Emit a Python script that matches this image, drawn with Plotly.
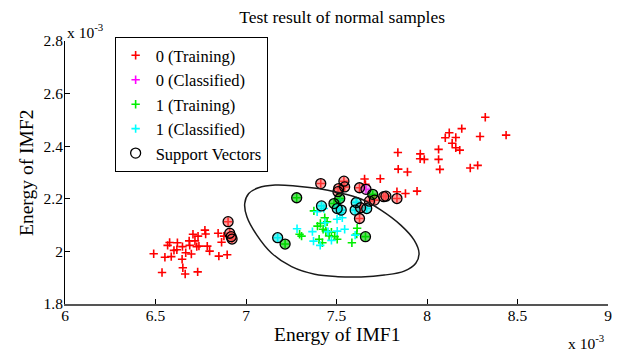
import plotly.graph_objects as go

# All values in units of 1e-3
# ---- class 0, training (red) ----
red_train_x = [6.490, 6.536, 6.552, 6.567, 6.578, 6.587, 6.602, 6.618, 6.621, 6.649,
               6.647, 6.651, 6.664, 6.667, 6.686, 6.689, 6.698, 6.707, 6.718, 6.728,
               6.733, 6.735, 6.740, 6.773, 6.777, 6.786, 6.799, 6.846, 6.850, 6.865,
               6.878, 6.896,
               6.901, 6.910, 6.918, 6.923,
               8.322, 8.437, 8.192, 8.123, 8.101, 8.159, 8.293, 8.139, 8.159, 8.181,
               8.064, 7.963, 7.962, 7.985, 8.064, 8.071, 8.239, 8.280, 7.839, 7.841,
               7.892, 7.742, 7.834, 7.881, 7.945, 7.655, 7.660,
               7.413, 7.541, 7.545, 7.512, 7.508, 7.627, 7.710, 7.682, 7.633, 7.627,
               7.761, 7.773, 7.834]
red_train_y = [1.991, 1.920, 1.978, 2.023, 2.034, 1.980, 2.004, 2.006, 2.033, 2.018,
               1.970, 1.938, 1.914, 1.995, 2.040, 2.023, 1.990, 2.065, 2.040, 2.018,
               1.922, 2.058, 2.020, 2.081, 2.066, 2.020, 2.001, 2.069, 1.982, 2.035,
               2.058, 1.987,
               2.113, 2.069, 2.056, 2.047,
               2.510, 2.442, 2.467, 2.451, 2.432, 2.433, 2.437, 2.411, 2.394, 2.385,
               2.388, 2.371, 2.352, 2.350, 2.350, 2.312, 2.317, 2.327, 2.376, 2.313,
               2.302, 2.276, 2.227, 2.220, 2.229, 2.275, 2.255,
               2.258, 2.267, 2.245, 2.239, 2.227, 2.242, 2.195, 2.191, 2.166, 2.125,
               2.208, 2.210, 2.201]

# ---- class 0, classified (magenta) ----
mag_cls_x = [7.663]
mag_cls_y = [2.236]

# ---- class 1, training (green) ----
green_train_x = [7.375, 7.435, 7.448, 7.411, 7.395, 7.296, 7.307, 7.426, 7.441, 7.472,
                 7.459, 7.490, 7.504, 7.404, 7.422, 7.614, 7.612, 7.585,
                 7.280, 7.518, 7.486, 7.700, 7.660, 7.216]
green_train_y = [2.154, 2.128, 2.113, 2.106, 2.096, 2.065, 2.058, 2.084, 2.078, 2.073,
                 2.059, 2.056, 2.046, 2.046, 2.033, 2.088, 2.066, 2.033,
                 2.204, 2.201, 2.182, 2.217, 2.056, 2.028]

# ---- class 1, classified (cyan) ----
cyan_cls_x = [7.393, 7.519, 7.503, 7.532, 7.282, 7.367, 7.453, 7.504, 7.545, 7.373,
              7.410, 7.472, 7.521, 7.612, 7.603, 7.436, 7.603, 7.430,
              7.417, 7.504, 7.526, 7.667, 7.609, 7.175]
cyan_cls_y = [2.151, 2.148, 2.122, 2.128, 2.086, 2.075, 2.075, 2.077, 2.084, 2.039,
              2.023, 2.042, 2.196, 2.187, 2.157, 2.109, 2.062, 2.163,
              2.173, 2.163, 2.157, 2.163, 2.186, 2.052]

# ---- support vectors ----
sv_x = [6.901, 6.910, 6.918, 6.923,
        7.413, 7.541, 7.545, 7.512, 7.508, 7.627, 7.710, 7.682, 7.633, 7.627,
        7.761, 7.773, 7.834,
        7.663,
        7.280, 7.518, 7.486, 7.700, 7.660, 7.216,
        7.417, 7.504, 7.526, 7.667, 7.609, 7.603, 7.175]
sv_y = [2.113, 2.069, 2.056, 2.047,
        2.258, 2.267, 2.245, 2.239, 2.227, 2.242, 2.195, 2.191, 2.166, 2.125,
        2.208, 2.210, 2.201,
        2.236,
        2.204, 2.201, 2.182, 2.217, 2.056, 2.028,
        2.173, 2.163, 2.157, 2.163, 2.186, 2.157, 2.052]
sv_class = ["0T"] * 17 + ["0C"] + ["1T"] * 6 + ["1C"] * 7

# ---- decision boundary ----
boundary_x = [6.993, 7.015, 7.069, 7.161, 7.271, 7.399, 7.508, 7.636, 7.746, 7.855,
              7.929, 7.956, 7.938, 7.874, 7.764, 7.636, 7.508, 7.380, 7.252, 7.142,
              7.060, 7.005, 6.993]
boundary_y = [2.182, 2.220, 2.242, 2.252, 2.249, 2.239, 2.224, 2.199, 2.157, 2.100,
              2.043, 1.993, 1.955, 1.925, 1.910, 1.903, 1.904, 1.913, 1.942, 1.993,
              2.062, 2.132, 2.182]

x_ticks = [6, 6.5, 7, 7.5, 8, 8.5, 9]
x_ticktext = ["6", "6.5", "7", "7.5", "8", "8.5", "9"]
y_ticks = [1.8, 2.0, 2.2, 2.4, 2.6, 2.8]
y_ticktext = ["1.8", "2", "2.2", "2.4", "2.6", "2.8"]

FONT = "Liberation Serif"
colors = {"0T": "#ff0000", "0C": "#ff00ff", "1T": "#00ee00", "1C": "#00ffff"}
fills = {"0T": "rgba(255,90,90,0.55)", "0C": "rgba(230,90,230,0.55)",
         "1T": "rgba(0,200,0,0.6)", "1C": "rgba(0,230,230,0.6)"}

fig = go.Figure()

def cross_trace(x, y, name, col):
    return go.Scatter(x=x, y=y, mode="markers", name=name,
                      marker=dict(symbol="cross-thin", size=6, color=col,
                                  line=dict(width=1.6, color=col)))

fig.add_trace(cross_trace(red_train_x, red_train_y, "0 (Training)", colors["0T"]))
fig.add_trace(cross_trace(mag_cls_x, mag_cls_y, "0 (Classified)", colors["0C"]))
fig.add_trace(cross_trace(green_train_x, green_train_y, "1 (Training)", colors["1T"]))
fig.add_trace(cross_trace(cyan_cls_x, cyan_cls_y, "1 (Classified)", colors["1C"]))

# translucent fill inside support-vector circles
fig.add_trace(go.Scatter(x=sv_x, y=sv_y, mode="markers", showlegend=False,
                         hoverinfo="skip",
                         marker=dict(symbol="circle", size=10,
                                     color=[fills[c] for c in sv_class],
                                     line=dict(width=0))))
fig.add_trace(go.Scatter(x=sv_x, y=sv_y, mode="markers", name="Support Vectors",
                         marker=dict(symbol="circle-open", size=10, color="black",
                                     line=dict(width=1.3, color="black"))))

fig.add_trace(go.Scatter(x=boundary_x, y=boundary_y, mode="lines", showlegend=False,
                         line=dict(color="#1a1a1a", width=1.5, shape="spline"),
                         hoverinfo="skip"))

axis_common = dict(showgrid=False, zeroline=False, showline=True, mirror=False,
                   ticks="inside", ticklen=5, tickwidth=1, tickcolor="black",
                   tickfont=dict(family=FONT, size=15.5, color="black"))

fig.update_layout(
    width=622, height=353,
    margin=dict(l=65, r=10, t=41, b=49),
    paper_bgcolor="white", plot_bgcolor="white",
    font=dict(family=FONT, color="black"),
    title=dict(text="Test result of normal samples", x=0.55, xanchor="center",
               y=1 - 17 / 353, yanchor="middle",
               font=dict(family=FONT, size=17.5, color="black")),
    xaxis=dict(range=[6, 9], tickvals=x_ticks, ticktext=x_ticktext,
               linecolor="#555555", linewidth=1.5, ticklabelstandoff=-3,
               **axis_common),
    yaxis=dict(range=[1.8, 2.8], tickvals=y_ticks, ticktext=y_ticktext,
               linecolor="black", linewidth=1, ticklabelstandoff=-2,
               **axis_common),
    legend=dict(x=0.0914, y=1.015, xanchor="left", yanchor="top",
                bgcolor="white", bordercolor="black", borderwidth=1,
                font=dict(family=FONT, size=16.5, color="black"),
                tracegroupgap=0, itemwidth=30),
    annotations=[
        dict(text="Energy of IMF1", xref="paper", yref="paper", x=0.5, y=-0.116,
             xanchor="center", yanchor="middle", showarrow=False,
             font=dict(family=FONT, size=19.5, color="black")),
        dict(text="Energy of IMF2", xref="paper", yref="paper", x=-0.071, y=0.5,
             xanchor="center", yanchor="middle", textangle=-90, showarrow=False,
             font=dict(family=FONT, size=19.5, color="black")),
        dict(text="x 10<sup>-3</sup>", xref="paper", yref="paper", x=0.0, y=1.0,
             xanchor="left", yanchor="bottom", showarrow=False, yshift=-2,
             font=dict(family=FONT, size=15.5, color="black")),
        dict(text="x 10<sup>-3</sup>", xref="paper", yref="paper", x=0.9963, y=-0.146,
             xanchor="right", yanchor="middle", showarrow=False,
             font=dict(family=FONT, size=15.5, color="black")),
    ],
)

fig.write_html("out.html")
